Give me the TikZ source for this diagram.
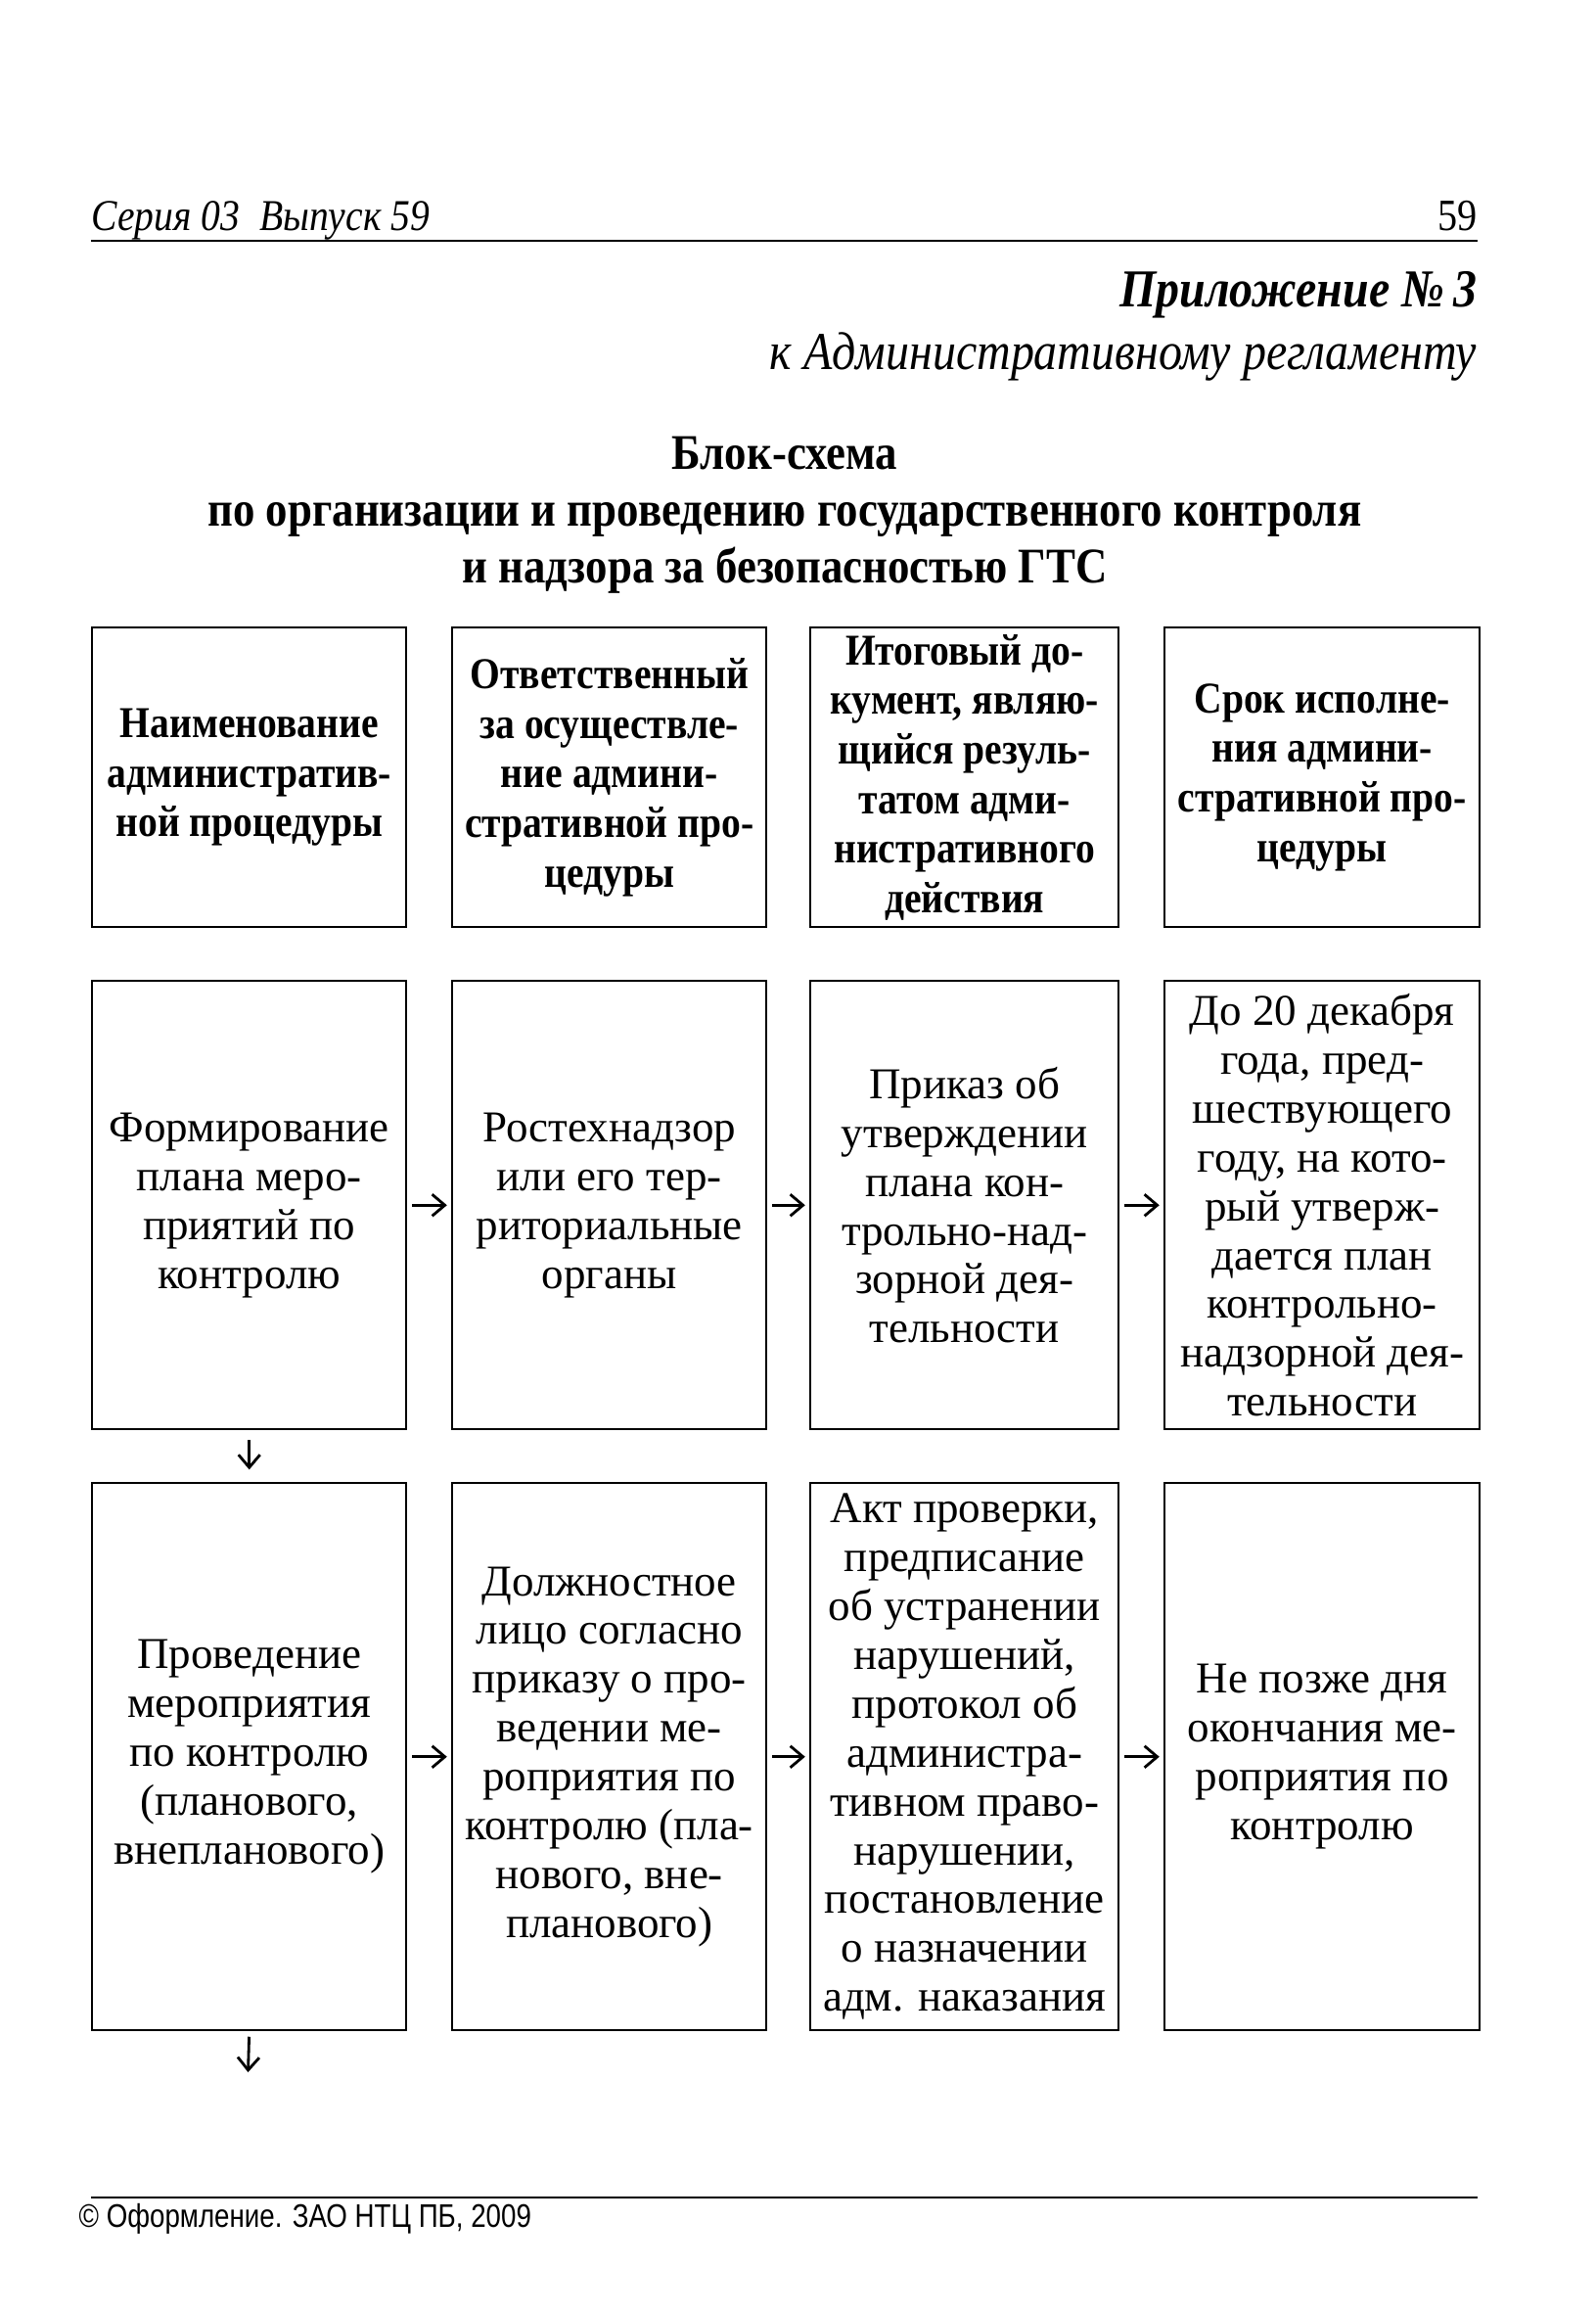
\documentclass[tikz,border=0pt]{standalone}
\usepackage{fontspec}
\setmainfont{Liberation Serif}
\newfontfamily\condserif{Liberation Serif}[FakeStretch=0.88]
\newfontfamily\footfont{Liberation Sans}[FakeStretch=0.83]
\usetikzlibrary{arrows.meta,positioning}

\begin{document}
\begin{tikzpicture}[>={Straight Barb[length=1.3mm,width=2.2mm]}]
\tikzset{
  cell/.style={draw,line width=.7pt,anchor=north west,inner sep=0pt,align=center,
    minimum width=3.21cm,font=\fontsize{12.8}{14.2}\selectfont},
  hcell/.style={cell,minimum height=3.06cm,font=\condserif\bfseries\fontsize{12.8}{14.4}\selectfont},
  fcell/.style={cell,minimum height=4.58cm},
  pcell/.style={cell,minimum height=5.59cm},
  link/.style={->,line width=.8pt,shorten <=1.4pt,shorten >=1.2pt},
  drop/.style={->,line width=.8pt,shorten <=2.8pt,shorten >=3.6pt}
}
\useasboundingbox (0,0) rectangle (16.30,-23.63);

% running head
\node[anchor=base west,inner sep=0pt,font=\condserif\itshape\fontsize{12.8}{15}\selectfont] (series) at (0.93,-2.35) {Серия 03\ \ Выпуск 59};
\node[anchor=base east,inner sep=0pt,font=\condserif\fontsize{13}{15}\selectfont] (page) at (15.10,-2.35) {59};
\draw[line width=.7pt] (0.93,-2.46) -- (15.10,-2.46);

\node[anchor=base east,inner sep=0pt,font=\condserif\bfseries\itshape\fontsize{15.5}{17}\selectfont] (appx) at (15.10,-3.13) {Приложение №\,3};
\node[anchor=base east,inner sep=0pt,font=\condserif\itshape\fontsize{15.5}{17}\selectfont] (reg) at (15.10,-3.77) {к Административному регламенту};

% title
\node[anchor=north,inner sep=0pt,align=center,font=\condserif\bfseries\fontsize{14.5}{16.6}\selectfont] (title) at (8.02,-4.45)
  {Блок-схема\\по организации и проведению государственного контроля\\и надзора за безопасностью ГТС};

% header row
\node[hcell] (h1) at (0.93,-6.40) {Наименование\\административ-\\ной процедуры};
\node[hcell] (h2) at (4.61,-6.40) {Ответственный\\за осуществле-\\ние админи-\\стративной про-\\цедуры};
\node[hcell,minimum width=3.15cm] (h3) at (8.27,-6.40) {Итоговый до-\\кумент, являю-\\щийся резуль-\\татом адми-\\нистративного\\действия};
\node[hcell,minimum width=3.22cm] (h4) at (11.89,-6.40) {Срок исполне-\\ния админи-\\стративной про-\\цедуры};

% planning
\node[fcell] (f1) at (0.93,-10.01) {Формирование\\плана меро-\\приятий по\\контролю};
\node[fcell] (f2) at (4.61,-10.01) {Ростехнадзор\\или его тер-\\риториальные\\органы};
\node[fcell,minimum width=3.15cm] (f3) at (8.27,-10.01) {Приказ об\\утверждении\\плана кон-\\трольно-над-\\зорной дея-\\тельности};
\node[fcell,minimum width=3.22cm] (f4) at (11.89,-10.01) {До 20 декабря\\года, пред-\\шествующего\\году, на кото-\\рый утверж-\\дается план\\контрольно-\\надзорной дея-\\тельности};

% inspection
\node[pcell] (p1) at (0.93,-15.14) {Проведение\\мероприятия\\по контролю\\(планового,\\внепланового)};
\node[pcell] (p2) at (4.61,-15.14) {Должностное\\лицо согласно\\приказу о про-\\ведении ме-\\роприятия по\\контролю (пла-\\нового, вне-\\планового)};
\node[pcell,minimum width=3.15cm] (p3) at (8.27,-15.14) {Акт проверки,\\предписание\\об устранении\\нарушений,\\протокол об\\администра-\\тивном право-\\нарушении,\\постановление\\о назначении\\адм. наказания};
\node[pcell,minimum width=3.22cm] (p4) at (11.89,-15.14) {Не позже дня\\окончания ме-\\роприятия по\\контролю};
\coordinate (next) at (2.535,-21.17);

\draw[link] (f1) -- (f2);
\draw[link] (f2) -- (f3);
\draw[link] (f3) -- (f4);
\draw[link] (p1) -- (p2);
\draw[link] (p2) -- (p3);
\draw[link] (p3) -- (p4);
\draw[drop] (f1.south) -- (p1.north);
\draw[drop,shorten <=1.5pt,shorten >=0pt] (p1.south) -- (next);

% footer
\draw[line width=.7pt] (0.93,-22.45) -- (15.10,-22.45);
\node[anchor=base west,inner sep=0pt,font=\footfont\fontsize{9.5}{11}\selectfont] (imprint) at (0.80,-22.75) {© Оформление. ЗАО НТЦ ПБ, 2009};
\end{tikzpicture}
\end{document}
